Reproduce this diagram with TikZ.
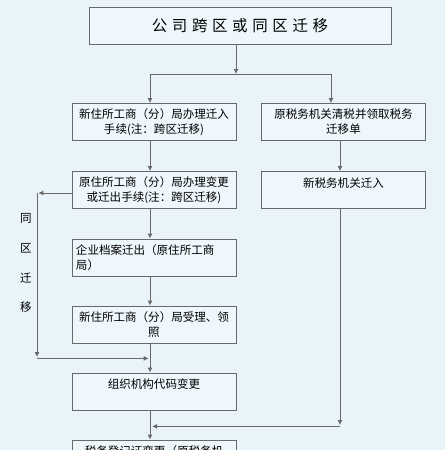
\documentclass[tikz,border=0pt]{standalone}
\usepackage{fontspec}
\setmainfont{Noto Sans CJK SC}
\newfontfamily\titlefont[LetterSpace=30]{Noto Sans CJK SC}
\usetikzlibrary{arrows.meta}
\definecolor{bgblue}{RGB}{232,244,250}
\definecolor{boxfill}{RGB}{238,247,252}
\definecolor{linegray}{RGB}{105,105,105}

\begin{document}
\begin{tikzpicture}[
  x=0.025cm, y=-0.025cm,
  box/.style={rectangle, draw=linegray, fill=boxfill, line width=0.6pt, align=center,
              minimum width=4.1cm, minimum height=0.925cm, inner sep=1pt,
              font=\fontsize{8.2}{10.7}\selectfont},
  arrow/.style={-{Latex[length=3.5pt,width=3.5pt]}, draw=linegray, line width=0.6pt},
  plain/.style={draw=linegray, line width=0.6pt}
]
\fill[bgblue] (0,0) rectangle (445,450);
\clip (0,0) rectangle (445,450);
% column and branch points
\coordinate (lc) at (150,0);
\coordinate (rc) at (340,0);
\coordinate (split) at (236,74);
\coordinate (lb) at (150,74);
\coordinate (rb) at (331,74);
\coordinate (sidetop) at (37,193);
\coordinate (sidebot) at (37,357);
\coordinate (merge) at (340,425);

\node[box, minimum width=7.55cm, font=\titlefont\fontsize{11}{13}\selectfont] (title) at (240,25.5) {公司跨区或同区迁移};
\node[box] (lnew) at (154,122) {新住所工商（分）局办理迁入\\手续(注：跨区迁移)};
\node[box] (rtax) at (343.5,122) {原税务机关清税并领取税务\\迁移单};
\node[box] (lold) at (154,190) {原住所工商（分）局办理变更\\或迁出手续(注：跨区迁移)};
\node[box] (rnew) at (343.5,190) {新税务机关迁入\\\mbox{}};
\node[box, text width=3.9cm, align=left] (archive) at (154,257.5) {企业档案迁出（原住所工商\\局）};
\node[box] (license) at (154,324.5) {新住所工商（分）局受理、领\\照};
\node[box] (orgcode) at (154,391.5) {组织机构代码变更\\\mbox{}};
\node[box] (taxreg) at (154,458.5) {税务登记证变更（原税务机\\\mbox{}};
\node[align=center, font=\fontsize{8.2}{21.3}\selectfont] (same) at (26,263) {同\\区\\迁\\移};

\draw[arrow] (title.south -| split) -- (split);
\draw[plain] (lb) -- (rb);
\draw[arrow] (lb) -- (lnew.north -| lc);
\draw[arrow] (rb) -- (rtax.north -| rb);
\draw[arrow] (lnew.south -| lc) -- (lold.north -| lc);
\draw[arrow] (rtax.south -| rc) -- (rnew.north -| rc);
\draw[arrow] (lold.south -| lc) -- (archive.north -| lc);
\draw[arrow] (archive.south -| lc) -- (license.north -| lc);
\draw[arrow] (license.south -| lc) -- (orgcode.north -| lc);
\draw[arrow] (orgcode.south -| lc) -- (taxreg.north -| lc);
% same-district branch
\draw[arrow] (lold.west |- sidetop) -- ([xshift=1pt]sidetop);
\draw[arrow] (sidetop) -- (sidebot);
\draw[arrow] ([yshift=-1pt]sidebot) -- ([xshift=-1pt,yshift=-1pt]sidebot -| lc);
% tax branch
\draw[arrow] (rnew.south -| rc) -- (merge);
\draw[arrow] ([yshift=-1pt]merge) -- ([xshift=1.5pt,yshift=-1pt]merge -| lc);
\end{tikzpicture}
\end{document}
